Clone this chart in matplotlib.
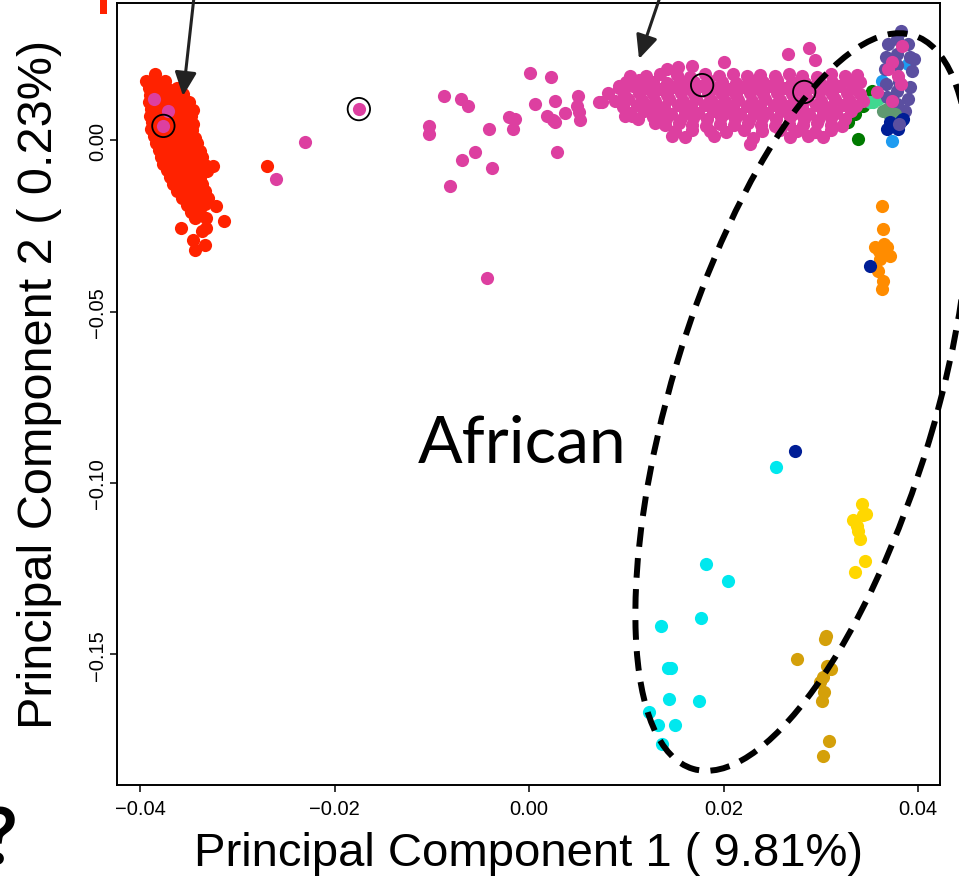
import matplotlib
matplotlib.use("Agg")
import matplotlib.pyplot as plt
from matplotlib.patches import Ellipse, Rectangle, FancyArrowPatch, ArrowStyle
from matplotlib.transforms import IdentityTransform

plt.rcParams["font.family"] = ["Liberation Sans", "DejaVu Sans"]

# ---- PCA scores (PC1, PC2) per population group ----
red = [
    (-0.0385, 0.0192),
    (-0.0394, 0.0172), (-0.0383, 0.0170), (-0.0374, 0.0174),
    (-0.0391, 0.0152), (-0.0381, 0.0155), (-0.0371, 0.0150), (-0.0362, 0.0153),
    (-0.0390, 0.0132), (-0.0380, 0.0129), (-0.0369, 0.0134), (-0.0359, 0.0131),
    (-0.0391, 0.0112), (-0.0381, 0.0115), (-0.0371, 0.0110), (-0.0361, 0.0113), (-0.0350, 0.0111),
    (-0.0389, 0.0092), (-0.0378, 0.0089), (-0.0367, 0.0094), (-0.0356, 0.0091), (-0.0346, 0.0088),
    (-0.0390, 0.0072), (-0.0380, 0.0075), (-0.0370, 0.0070), (-0.0359, 0.0073), (-0.0348, 0.0071),
    (-0.0388, 0.0052), (-0.0377, 0.0049), (-0.0366, 0.0054), (-0.0356, 0.0051), (-0.0346, 0.0048),
    (-0.0389, 0.0032), (-0.0378, 0.0035), (-0.0368, 0.0030), (-0.0357, 0.0033), (-0.0347, 0.0031),
    (-0.0386, 0.0012), (-0.0375, 0.0009), (-0.0364, 0.0014), (-0.0354, 0.0011), (-0.0343, 0.0008),
    (-0.0384, -0.0008), (-0.0373, -0.0005), (-0.0362, -0.0010), (-0.0351, -0.0007), (-0.0341, -0.0009),
    (-0.0381, -0.0028), (-0.0370, -0.0031), (-0.0359, -0.0026), (-0.0348, -0.0029), (-0.0338, -0.0032),
    (-0.0378, -0.0048), (-0.0367, -0.0045), (-0.0357, -0.0050), (-0.0346, -0.0047), (-0.0336, -0.0049),
    (-0.0376, -0.0068), (-0.0365, -0.0071), (-0.0354, -0.0066), (-0.0343, -0.0069), (-0.0333, -0.0072),
    (-0.0372, -0.0088), (-0.0362, -0.0085), (-0.0351, -0.0090), (-0.0341, -0.0087), (-0.0331, -0.0089),
    (-0.0369, -0.0108), (-0.0359, -0.0111), (-0.0348, -0.0106), (-0.0338, -0.0109),
    (-0.0366, -0.0128), (-0.0356, -0.0125), (-0.0345, -0.0130), (-0.0336, -0.0127),
    (-0.0362, -0.0148), (-0.0352, -0.0151), (-0.0342, -0.0146), (-0.0333, -0.0149),
    (-0.0357, -0.0168), (-0.0347, -0.0165), (-0.0337, -0.0170), (-0.0330, -0.0167),
    (-0.0352, -0.0188), (-0.0342, -0.0191), (-0.0333, -0.0186),
    (-0.0348, -0.0208), (-0.0338, -0.0211),
    (-0.0343, -0.0228), (-0.0332, -0.0226),
    (-0.0325, -0.0075), (-0.0322, -0.0192), (-0.0314, -0.0235),
    (-0.0358, -0.0255), (-0.0332, -0.0255), (-0.0336, -0.0265),
    (-0.0346, -0.0290), (-0.0333, -0.0305), (-0.0344, -0.0320),
    (-0.0356, 0.0135), (-0.0269, -0.0075),
]

pink = [
    (-0.0386, 0.0121), (-0.0371, 0.0086), (-0.0376, 0.0042),
    (-0.0260, -0.0113), (-0.0230, -0.0005), (-0.0175, 0.0091),
    (-0.0103, 0.0042), (-0.0103, 0.0018), (-0.0087, 0.0129), (-0.0070, 0.0121),
    (-0.0063, 0.0100), (-0.0041, 0.0033), (-0.0069, -0.0058), (-0.0056, -0.0034),
    (-0.0038, -0.0081), (-0.0081, -0.0133), (-0.0021, 0.0068), (-0.0014, 0.0062),
    (-0.0016, 0.0033), (0.0001, 0.0196), (0.0023, 0.0185), (0.0006, 0.0106),
    (0.0027, 0.0115), (0.0018, 0.0071), (0.0025, 0.0059), (0.0027, 0.0053),
    (0.0037, 0.0080), (0.0050, 0.0129), (0.0049, 0.0100), (0.0051, 0.0083),
    (0.0052, 0.0059), (0.0029, -0.0034), (0.0072, 0.0112), (0.0081, 0.0138),
    (0.0092, 0.0158), (-0.0043, -0.0402),
    (0.0266, 0.0252), (0.0288, 0.0269), (0.0294, 0.0234), (0.0200, 0.0229),
    (0.0168, 0.0217), (0.0153, 0.0214), (0.0142, 0.0208), (0.0104, 0.0188),
    (0.0075, 0.0112), (0.0094, 0.0159), (0.0114, 0.0159), (0.0106, 0.0071),
    (0.0099, 0.0071), (0.0147, 0.0013), (0.0227, -0.0011), (0.0287, 0.0013),
    (0.0130, 0.0051),
    (0.0120, 0.0188), (0.0135, 0.0193), (0.0152, 0.0190), (0.0166, 0.0186),
    (0.0181, 0.0192), (0.0195, 0.0189), (0.0210, 0.0194), (0.0224, 0.0188),
    (0.0238, 0.0191), (0.0253, 0.0187), (0.0267, 0.0193), (0.0281, 0.0189),
    (0.0296, 0.0186), (0.0310, 0.0192), (0.0325, 0.0188), (0.0337, 0.0191),
    (0.0100, 0.0170), (0.0113, 0.0175), (0.0127, 0.0171), (0.0142, 0.0168),
    (0.0156, 0.0174), (0.0170, 0.0170), (0.0184, 0.0176), (0.0198, 0.0171),
    (0.0213, 0.0168), (0.0227, 0.0173), (0.0241, 0.0170), (0.0255, 0.0175),
    (0.0270, 0.0171), (0.0284, 0.0168), (0.0298, 0.0174), (0.0312, 0.0170),
    (0.0327, 0.0175), (0.0340, 0.0171),
    (0.0093, 0.0152), (0.0107, 0.0157), (0.0120, 0.0153), (0.0135, 0.0150),
    (0.0149, 0.0156), (0.0163, 0.0152), (0.0177, 0.0157), (0.0191, 0.0153),
    (0.0206, 0.0150), (0.0220, 0.0155), (0.0234, 0.0152), (0.0248, 0.0157),
    (0.0262, 0.0153), (0.0277, 0.0150), (0.0291, 0.0156), (0.0305, 0.0152),
    (0.0319, 0.0157), (0.0333, 0.0153),
    (0.0098, 0.0134), (0.0113, 0.0139), (0.0127, 0.0135), (0.0142, 0.0132),
    (0.0156, 0.0138), (0.0170, 0.0134), (0.0184, 0.0139), (0.0198, 0.0135),
    (0.0213, 0.0132), (0.0227, 0.0137), (0.0241, 0.0134), (0.0255, 0.0139),
    (0.0270, 0.0135), (0.0284, 0.0132), (0.0298, 0.0138), (0.0312, 0.0134),
    (0.0327, 0.0139), (0.0340, 0.0135),
    (0.0088, 0.0116), (0.0102, 0.0121), (0.0116, 0.0117), (0.0130, 0.0114),
    (0.0144, 0.0120), (0.0158, 0.0116), (0.0172, 0.0121), (0.0187, 0.0117),
    (0.0201, 0.0114), (0.0215, 0.0119), (0.0229, 0.0116), (0.0243, 0.0121),
    (0.0258, 0.0117), (0.0272, 0.0114), (0.0286, 0.0120), (0.0300, 0.0116),
    (0.0315, 0.0121), (0.0329, 0.0117), (0.0343, 0.0114),
    (0.0097, 0.0098), (0.0111, 0.0103), (0.0125, 0.0099), (0.0139, 0.0096),
    (0.0153, 0.0102), (0.0167, 0.0098), (0.0181, 0.0103), (0.0195, 0.0099),
    (0.0210, 0.0096), (0.0224, 0.0101), (0.0238, 0.0098), (0.0252, 0.0103),
    (0.0266, 0.0099), (0.0281, 0.0096), (0.0295, 0.0102), (0.0309, 0.0098),
    (0.0323, 0.0103), (0.0336, 0.0099),
    (0.0104, 0.0080), (0.0118, 0.0085), (0.0132, 0.0081), (0.0146, 0.0078),
    (0.0160, 0.0084), (0.0174, 0.0080), (0.0189, 0.0085), (0.0203, 0.0081),
    (0.0217, 0.0078), (0.0231, 0.0083), (0.0245, 0.0080), (0.0259, 0.0085),
    (0.0274, 0.0081), (0.0288, 0.0078), (0.0302, 0.0084), (0.0316, 0.0080),
    (0.0331, 0.0085),
    (0.0112, 0.0062), (0.0127, 0.0067), (0.0141, 0.0063), (0.0155, 0.0060),
    (0.0169, 0.0066), (0.0183, 0.0062), (0.0197, 0.0067), (0.0212, 0.0063),
    (0.0226, 0.0060), (0.0240, 0.0065), (0.0254, 0.0062), (0.0268, 0.0067),
    (0.0283, 0.0063), (0.0297, 0.0060), (0.0311, 0.0066), (0.0325, 0.0062),
    (0.0140, 0.0044), (0.0154, 0.0049), (0.0168, 0.0045), (0.0182, 0.0042),
    (0.0196, 0.0048), (0.0211, 0.0044), (0.0225, 0.0049), (0.0239, 0.0045),
    (0.0253, 0.0042), (0.0267, 0.0047), (0.0282, 0.0044), (0.0296, 0.0049),
    (0.0310, 0.0045), (0.0322, 0.0042),
    (0.0150, 0.0026), (0.0168, 0.0031), (0.0186, 0.0027), (0.0203, 0.0024),
    (0.0221, 0.0030), (0.0240, 0.0026), (0.0258, 0.0031), (0.0276, 0.0027),
    (0.0294, 0.0024), (0.0311, 0.0029),
    (0.0160, 0.0010), (0.0190, 0.0012), (0.0230, 0.0008), (0.0268, 0.0011),
    (0.0302, 0.0009),
    (0.0358, 0.0141), (0.0384, 0.0275), (0.0373, 0.0229), (0.0369, 0.0208),
    (0.0379, 0.0188), (0.0382, 0.0164), (0.0373, 0.0115),
]

dark_green = [(0.0353, 0.0144), (0.0343, 0.0100), (0.0338, 0.0004),
              (0.0328, 0.0053), (0.0335, 0.0077)]
mint = [(0.0354, 0.0112), (0.0359, 0.0120), (0.0351, 0.0112)]
sky = [(0.0363, 0.0173), (0.0373, -0.0002), (0.0390, 0.0222)]
slate = [
    (0.0382, 0.0319), (0.0378, 0.0295), (0.0369, 0.0281), (0.0390, 0.0281),
    (0.0378, 0.0252), (0.0367, 0.0243), (0.0392, 0.0243), (0.0396, 0.0237),
    (0.0378, 0.0221), (0.0366, 0.0208), (0.0394, 0.0202), (0.0367, 0.0164),
    (0.0380, 0.0170), (0.0392, 0.0155), (0.0378, 0.0143), (0.0368, 0.0126),
    (0.0390, 0.0120), (0.0378, 0.0105), (0.0369, 0.0091), (0.0387, 0.0085),
]
sage = [(0.0368, 0.0091), (0.0371, 0.0071), (0.0376, 0.0077), (0.0364, 0.0085)]
navy = [(0.0371, 0.0053), (0.0382, 0.0056), (0.0379, 0.0033), (0.0368, 0.0033),
        (0.0385, 0.0062), (0.0374, 0.0041), (0.0351, -0.0366), (0.0273, -0.0907)]
slate_late = [(0.0380, 0.0047)]
orange = [(0.0363, -0.0192), (0.0364, -0.0259), (0.0356, -0.0311),
          (0.0368, -0.0311), (0.0371, -0.0337), (0.0361, -0.0346),
          (0.0359, -0.0381), (0.0364, -0.0410), (0.0363, -0.0434),
          (0.0365, -0.0302), (0.0360, -0.0323)]
yellow = [(0.0342, -0.1061), (0.0343, -0.1093), (0.0333, -0.1108),
          (0.0338, -0.1140), (0.0340, -0.1163), (0.0345, -0.1227),
          (0.0335, -0.1259), (0.0347, -0.1090), (0.0337, -0.1125)]
goldenrod = [(0.0305, -0.1446), (0.0304, -0.1455), (0.0276, -0.1513),
             (0.0306, -0.1534), (0.0310, -0.1543), (0.0302, -0.1567),
             (0.0299, -0.1581), (0.0303, -0.1611), (0.0301, -0.1637),
             (0.0308, -0.1753), (0.0302, -0.1796)]
cyan = [(0.0182, -0.1236), (0.0205, -0.1286), (0.0136, -0.1417),
        (0.0177, -0.1394), (0.0143, -0.1540), (0.0146, -0.1540),
        (0.0144, -0.1630), (0.0175, -0.1636), (0.0123, -0.1668),
        (0.0133, -0.1706), (0.0150, -0.1706), (0.0137, -0.1761),
        (0.0254, -0.0952)]

# highlighted individuals (open rings)
highlighted = [(-0.0376, 0.0042), (-0.0175, 0.0091), (0.0178, 0.0161), (0.0283, 0.0141)]

x_ticks = [-0.04, -0.02, 0.00, 0.02, 0.04]
y_ticks = [0.00, -0.05, -0.10, -0.15]

layers = [
    (red, "#FF2200"), (orange, "#FF8C00"), (yellow, "#FFD700"),
    (goldenrod, "#D4A00A"), (cyan, "#00E8EE"), (dark_green, "#007A00"),
    (mint, "#40D890"), (sky, "#1E9BF0"), (slate, "#5B4FA0"),
    (sage, "#5F9970"), (navy, "#001E96"), (pink, "#DD3FA0"),
    (slate_late, "#5B4FA0"),
]

W, H = 959, 878
fig = plt.figure(figsize=(W / 100, H / 100), dpi=100)
ax = fig.add_axes([117 / W, (H - 786) / H, (940 - 117) / W, (786 - 4) / H])

for pts, col in layers:
    xs, ys = zip(*pts)
    ax.scatter(xs, ys, s=90, c=col, linewidths=0, zorder=2)

hx, hy = zip(*highlighted)
ax.scatter(hx, hy, s=260, facecolors="none", edgecolors="black",
           linewidths=1.3, zorder=3)

ax.set_xlim(-0.04237, 0.04226)
ax.set_ylim(-0.18812, 0.04006)
ax.set_xticks(x_ticks)
ax.set_xticklabels([f"{v:.2f}".replace("-", "\u2212") for v in x_ticks])
ax.set_yticks(y_ticks)
ax.set_yticklabels([f"{v:.2f}".replace("-", "\u2212") for v in y_ticks],
                   rotation=90, va="center")
ax.tick_params(direction="out", length=5, width=1.1, labelsize=14.5)
ax.tick_params(axis="x", pad=5)
ax.tick_params(axis="y", pad=2)
for sp in ax.spines.values():
    sp.set_linewidth(1.4)

fig.text(528 / W, (H - 866) / H, "Principal Component 1 ( 9.81%)",
         fontsize=34, ha="center", va="baseline")
fig.text(40 / W, (H - 384) / H, "Principal Component 2 ( 0.23%)",
         fontsize=35, rotation=90, ha="center", va="center")

# dashed ring around the African samples
ring = Ellipse((803, H - 403), width=766, height=264, angle=73.3,
               transform=IdentityTransform(), fill=False, edgecolor="black",
               linewidth=4.3, linestyle=(0, (3.3, 1.9)), capstyle="butt",
               zorder=5)
fig.add_artist(ring)

fig.text(418 / W, (H - 463) / H, "African", fontsize=47.5, family="Lato",
         ha="left", va="baseline", zorder=6)

# pointer arrows
style = ArrowStyle("-|>", head_length=1.2, head_width=0.55)
for start, end in [((194, H + 2), (183, H - 97)), ((660, H + 2), (639, H - 60))]:
    arr = FancyArrowPatch(start, end, transform=IdentityTransform(),
                          arrowstyle=style, mutation_scale=12,
                          color="#222222", linewidth=2.2, shrinkA=0, shrinkB=0)
    fig.add_artist(arr)

# slide fragments at the edges
fig.add_artist(Rectangle((100, H - 15), 7, 16, transform=IdentityTransform(),
                         color="#FF2200", linewidth=0))
fig.text(17 / W, (H - 865) / H, "?", fontsize=56, fontweight="bold",
         family="Lato", ha="right", va="baseline")

fig.savefig("out.png", dpi=100)
